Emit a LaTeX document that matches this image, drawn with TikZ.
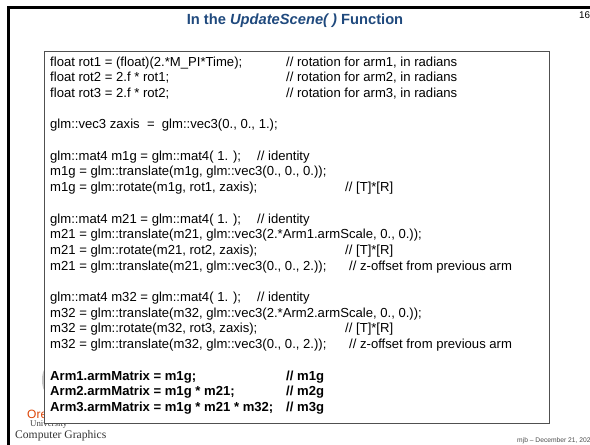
\documentclass[tikz,border=0pt]{standalone}
\usepackage{fontspec}
\setmainfont{Liberation Sans}
\newfontfamily\serifx{Liberation Serif}
\definecolor{titleblue}{RGB}{31,73,125}
\definecolor{osuorange}{RGB}{220,68,5}
\definecolor{boxgray}{RGB}{80,80,80}
\begin{document}
\begin{tikzpicture}[x=1pt,y=-1pt,
  codeline/.style={anchor=base west, inner sep=0pt, font=\fontsize{13.1}{15.7}\selectfont},
  boldline/.style={codeline, font=\bfseries\fontsize{13.1}{15.7}\selectfont},
  boxline/.style={draw=boxgray, line width=1pt, fill=white},
  frameline/.style={line width=3pt, black}]
\useasboundingbox (0,0) rectangle (590,445);
% slide frame
\draw[frameline] (8.5,445) -- (8.5,7.5) -- (590,7.5);
% title and page number
\node[anchor=base, inner sep=0pt, text=titleblue, font=\bfseries\fontsize{14.7}{17}\selectfont] (title) at (295,24) {In the \textit{UpdateScene( )} Function};
\node[anchor=base west, inner sep=0pt, font=\fontsize{9.8}{11}\selectfont] (pnum) at (579,18) {16};
% logo fragments (partly covered by the code box)
\fill[gray!45] (45.5,380) ellipse [x radius=3.5, y radius=11] coordinate (logoshape);
\node[anchor=base west, inner sep=0pt, text=osuorange, font=\fontsize{12}{13}\selectfont] (ore) at (27,418) {Ore};
\node[anchor=base west, inner sep=0pt, text=black!75, font=\serifx\fontsize{8.8}{10}\selectfont] (univ) at (30,426.5) {University};
\node[anchor=base west, inner sep=0pt, text=black!80, font=\serifx\fontsize{11.6}{13}\selectfont] (cg) at (15,438) {Computer Graphics};
\node[anchor=base west, inner sep=0pt, text=black!70, font=\fontsize{6.7}{8}\selectfont] (foot) at (517,442.5) {mjb – December 21, 202};
% code box
\draw[boxline] (44,51) rectangle (549,423);
% code lines
\node[codeline] (l0) at (50,66) {float rot1 = (float)(2.*M\_PI*Time);};
\node[codeline] (c0) at (286,66) {// rotation for arm1, in radians};
\node[codeline] (l1) at (50,81.7) {float rot2 = 2.f * rot1;};
\node[codeline] (c1) at (286,81.7) {// rotation for arm2, in radians};
\node[codeline] (l2) at (50,97.4) {float rot3 = 2.f * rot2;};
\node[codeline] (c2) at (286,97.4) {// rotation for arm3, in radians};
\node[codeline] (l4) at (50,128.8) {glm::vec3 zaxis~ =~ glm::vec3(0., 0., 1.);};
\node[codeline] (l6) at (50,160.2) {glm::mat4 m1g = glm::mat4( 1. );};
\node[codeline] (c6) at (257,160.2) {// identity};
\node[codeline] (l7) at (50,175.9) {m1g = glm::translate(m1g, glm::vec3(0., 0., 0.));};
\node[codeline] (l8) at (50,191.6) {m1g = glm::rotate(m1g, rot1, zaxis);};
\node[codeline] (c8) at (345,191.6) {// [T]*[R]};
\node[codeline] (l10) at (50,223) {glm::mat4 m21 = glm::mat4( 1. );};
\node[codeline] (c10) at (257,223) {// identity};
\node[codeline] (l11) at (50,238.7) {m21 = glm::translate(m21, glm::vec3(2.*Arm1.armScale, 0., 0.));};
\node[codeline] (l12) at (50,254.4) {m21 = glm::rotate(m21, rot2, zaxis);};
\node[codeline] (c12) at (345,254.4) {// [T]*[R]};
\node[codeline] (l13) at (50,270.1) {m21 = glm::translate(m21, glm::vec3(0., 0., 2.));};
\node[codeline] (c13) at (349,270.1) {// z-offset from previous arm};
\node[codeline] (l15) at (50,301.5) {glm::mat4 m32 = glm::mat4( 1. );};
\node[codeline] (c15) at (257,301.5) {// identity};
\node[codeline] (l16) at (50,317.2) {m32 = glm::translate(m32, glm::vec3(2.*Arm2.armScale, 0., 0.));};
\node[codeline] (l17) at (50,332.9) {m32 = glm::rotate(m32, rot3, zaxis);};
\node[codeline] (c17) at (345,332.9) {// [T]*[R]};
\node[codeline] (l18) at (50,348.6) {m32 = glm::translate(m32, glm::vec3(0., 0., 2.));};
\node[codeline] (c18) at (349,348.6) {// z-offset from previous arm};
\node[boldline] (l20) at (50,380) {Arm1.armMatrix = m1g;};
\node[boldline] (c20) at (286,380) {// m1g};
\node[boldline] (l21) at (50,395.7) {Arm2.armMatrix = m1g * m21;};
\node[boldline] (c21) at (286,395.7) {// m2g};
\node[boldline] (l22) at (50,411.4) {Arm3.armMatrix = m1g * m21 * m32;};
\node[boldline] (c22) at (286,411.4) {// m3g};
\end{tikzpicture}
\end{document}
